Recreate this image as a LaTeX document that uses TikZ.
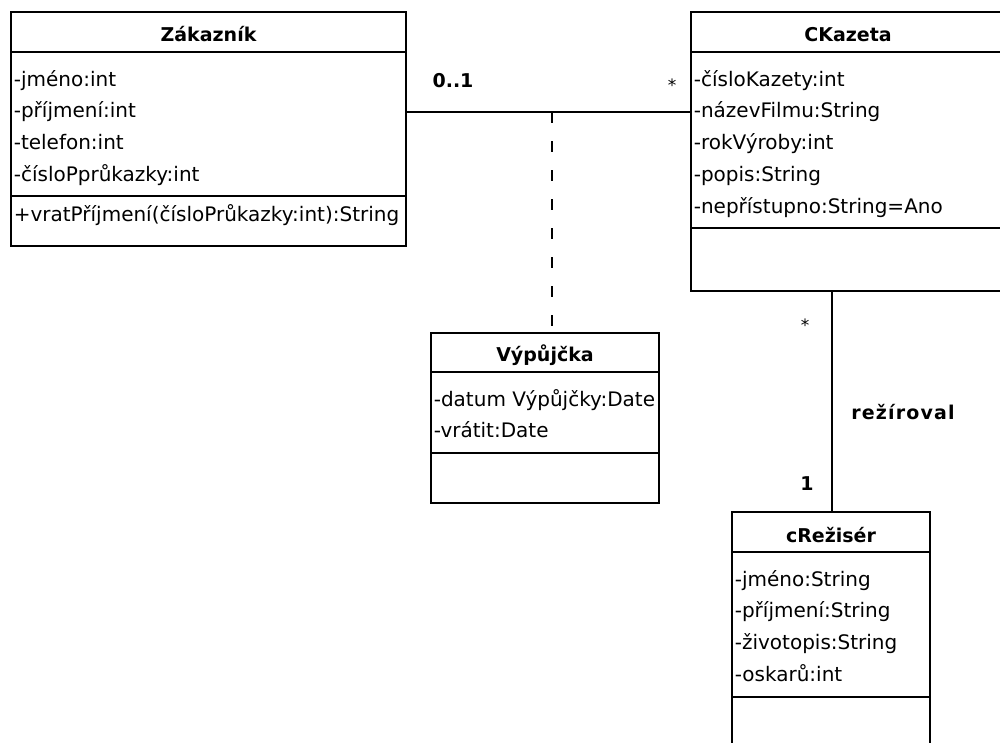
\documentclass[tikz,border=0pt]{standalone}
\usepackage{fontspec}
\setmainfont{DejaVu Sans}
\begin{document}
\begin{tikzpicture}[x=1pt,y=-1pt,line width=1.6pt,
  cls/.style={draw,rectangle,anchor=north west,inner sep=0pt,outer sep=0pt},
  ttl/.style={anchor=base,font=\fontsize{19}{21}\selectfont\bfseries,inner sep=0pt},
  attr/.style={anchor=base west,font=\fontsize{20}{22}\selectfont,inner sep=0pt},
  bold/.style={anchor=base,font=\fontsize{19}{21}\selectfont\bfseries,inner sep=0pt},
  star/.style={font=\fontsize{17}{19}\selectfont,inner sep=0pt},
  dashline/.style={dash pattern=on 11pt off 18pt}]
\clip (0,0) rectangle (1000,742);
\fill[white] (0,0) rectangle (1000,742);
% Zakaznik
\node[cls,minimum width=395pt,minimum height=234pt] (zak) at (11,12) {};
\draw (11,52) -- (406,52);
\draw (11,196) -- (406,196);
\node[ttl] (zakT) at (208.5,41) {Zákazník};
\node[attr] (zak1) at (13,86) {-jméno:int};
\node[attr] (zak2) at (13,117.5) {-příjmení:int};
\node[attr] (zak3) at (13,149) {-telefon:int};
\node[attr] (zak4) at (13,181) {-čísloPprůkazky:int};
\node[attr] (zak5) at (13,221) {+vratPříjmení(čísloPrůkazky:int):String};
% CKazeta
\node[cls,minimum width=320pt,minimum height=279pt] (kaz) at (691,12) {};
\draw (691,52) -- (1011,52);
\draw (691,228) -- (1011,228);
\node[ttl] (kazT) at (848,41) {CKazeta};
\node[attr] (kaz1) at (693,86) {-čísloKazety:int};
\node[attr] (kaz2) at (693,117.5) {-názevFilmu:String};
\node[attr] (kaz3) at (693,149) {-rokVýroby:int};
\node[attr] (kaz4) at (693,181) {-popis:String};
\node[attr] (kaz5) at (693,213) {-nepřístupno:String=Ano};
% Vypujcka
\node[cls,minimum width=228pt,minimum height=170pt] (vyp) at (431,333) {};
\draw (431,372) -- (659,372);
\draw (431,453) -- (659,453);
\node[ttl] (vypT) at (545,361) {Výpůjčka};
\node[attr] (vyp1) at (433,406) {-datum Výpůjčky:Date};
\node[attr] (vyp2) at (433,437) {-vrátit:Date};
% cReziser
\node[cls,minimum width=198pt,minimum height=260pt] (rez) at (732,512) {};
\draw (732,552) -- (930,552);
\draw (732,697) -- (930,697);
\node[ttl] (rezT) at (831,542) {cRežisér};
\node[attr] (rez1) at (734,586) {-jméno:String};
\node[attr] (rez2) at (734,617.5) {-příjmení:String};
\node[attr] (rez3) at (734,649) {-životopis:String};
\node[attr] (rez4) at (734,681) {-oskarů:int};
% association Zakaznik - CKazeta
\coordinate (mid) at (552,112);
\coordinate (dirx) at (832,400);
\draw (zak.east |- mid) -- (kaz.west |- mid);
\draw[dashline] (mid) -- (mid |- vyp.north);
\node[bold] (m01) at (453,87) {0..1};
\node[star] (mstar1) at (672,85) {*};
% association CKazeta - cReziser
\draw (dirx |- kaz.south) -- (dirx |- rez.north);
\node[star] (mstar2) at (805,325) {*};
\node[bold] (rezirov) at (903,419) {\addfontfeature{LetterSpace=6}režíroval};
\node[bold] (m1) at (807,490) {1};
\end{tikzpicture}
\end{document}
